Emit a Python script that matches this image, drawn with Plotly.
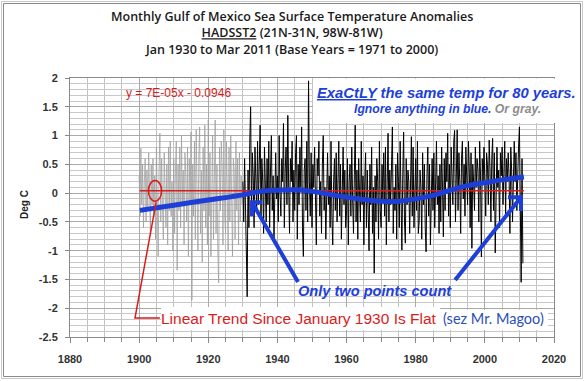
import numpy as np
import plotly.graph_objects as go

# ---------------- data ----------------
gray_start = 1900.0          # quarterly values
gray_values = [
    0.3, -0.4, 0.78, -0.2,   0.5, -0.6, 0.2, 0.6,   -0.5, 0.4, -0.3, 0.7,
    0.1, -0.7, 0.5, -0.2,    0.6, -0.4, 0.3, -0.8,  0.8, -0.3, -1.1, 0.4,
    1.04, -0.5, 0.6, -0.2,   -0.8, 0.7, 0.1, -0.6,  0.5, -0.9, 0.8, -0.3,
    0.9, -0.4, 0.2, -1.0,    0.6, -0.7, 0.4, 0.9,   -1.34, 0.5, -0.3, 0.8,
    -0.6, 1.0, -0.2, 0.4,    -0.9, 0.7, 0.3, -0.5,  0.8, -1.1, 0.6, -0.2,
    1.06, -1.86, 0.5, -0.4,  0.9, -0.8, 1.1, -0.3,  -1.0, 0.6, 1.15, -0.7,
    0.4, -1.2, 0.8, -0.3,    1.18, -0.6, 0.5, -0.9, 1.27, -0.4, 0.7, -1.1,
    0.6, 1.0, -0.8, 0.3,     1.27, -0.7, 0.5, -1.0, -1.56, 0.8, -0.3, 0.9,
    0.5, -0.9, 1.1, -0.4,    -0.7, 0.9, 0.2, -1.0,  0.8, -0.5, 1.0, -0.6,
    -1.1, 0.6, 0.4, -0.8,    0.9, -0.3, 0.6, -0.9,  0.7, -0.5, 0.3, -0.2,
]

black_start = 1930.0         # quarterly values Jan 1930 - Mar 2011 (estimated)
black_values = [
    0.2, -0.5, 0.6, -0.3,   -0.9, -1.8, 0.4, -0.6,  0.9, 1.5, -0.4, 0.7,
    0.3, -0.6, 0.8, 0.1,    -0.3, 0.9, -0.2, 0.5,   1.18, -0.4, 0.6, 0.2,
    -0.7, 0.8, 0.1, -0.5,   0.6, -0.2, 0.9, -0.6,   0.4, 1.0, -0.3, 0.3,
    -0.8, 0.5, 0.7, -0.1,   0.3, -0.5, 1.0, 0.0,    -0.4, 0.6, 0.2, 1.21,
    -0.6, 0.4, 0.8, -0.2,   1.35, 0.1, -0.7, 0.6,   0.2, 0.9, -0.5, 0.4,
    -0.3, 0.7, 1.0, -0.8,   0.5, -0.2, 0.8, 0.1,    1.15, -0.6, -1.1, 0.4,
    0.6, -0.3, 0.9, -0.5,   1.95, 0.2, -0.4, 0.7,   -0.6, 0.5, 0.1, 0.8,
    -0.2, -0.9, 0.6, 0.3,   0.9, -0.4, 0.2, -0.7,   0.5, 1.0, -0.3, 0.1,
    -0.8, 0.4, 0.7, -0.2,   0.3, -0.6, 0.9, -0.4,   -0.9, 0.2, 0.6, -0.3,
    0.7, -0.5, 0.1, 0.9,    -0.4, 0.5, -0.8, 0.3,   0.8, -0.2, 0.4, -0.6,
    -0.3, 0.6, -0.9, 0.2,   0.5, -0.4, 0.8, -0.1,   -0.7, 0.3, 1.18, -0.5,
    0.4, -0.8, 0.6, 0.0,    -0.5, 0.9, -0.2, 0.3,   -0.9, 0.2, 0.7, -0.6,
    0.4, -0.3, -1.0, 0.5,   -0.2, 0.8, -0.7, 0.1,   -1.39, 0.3, -0.5, 0.6,
    0.2, -0.8, 0.9, -0.3,   -0.6, 0.5, -0.1, 0.7,   -0.4, 0.8, -0.9, 0.2,
    1.04, -0.5, 0.4, -0.2,  0.6, 1.15, -0.7, 0.1,   -0.3, 0.5, -0.8, 0.7,
    0.2, -0.6, 0.9, -0.4,   -0.99, 0.3, 1.06, -0.5, -0.87, 0.6, -0.2, 0.4,
    0.2, -0.7, 0.5, 0.98,   -0.4, 0.8, -0.6, 0.3,   0.6, -0.3, 0.9, -0.7,
    -0.5, 0.4, 0.1, -0.8,   0.7, -0.2, 0.5, -0.6,   -1.02, 0.3, 0.8, -0.4,
    0.5, -0.9, 0.2, 0.6,    -0.3, 0.7, -0.6, 0.4,   0.9, -0.2, 0.3, -0.7,
    0.5, -0.5, 0.8, 0.1,    -0.76, 0.6, -0.3, 0.7,  0.2, 1.04, -0.4, 0.5,
    -0.6, 0.8, 0.3, -0.2,   0.9, 1.09, -0.5, 0.4,   1.1, -0.3, 0.7, 0.2,
    -0.7, 0.6, 0.9, -0.1,   0.5, -0.4, 0.8, 0.3,    -0.2, 0.9, 0.4, -0.6,
    0.7, -0.96, 0.5, 0.2,   -0.3, 0.8, 0.1, 0.6,    0.4, -0.5, 0.9, 0.3,
    -1.11, 0.6, 0.2, 0.8,   0.3, -0.4, 0.7, 0.5,    -0.2, 0.92, 0.4, -0.5,
    0.6, 0.95, -0.3, 0.7,   -1.04, 0.5, 0.8, 0.1,   0.4, -0.6, 0.7, 0.3,
    0.8, -0.2, 0.5, 0.9,    -0.4, 0.6, 0.2, 0.7,    0.3, -0.7, 0.8, 0.4,
    -0.5, 0.6, 0.9, 0.2,    0.7, -0.3, 0.5, 0.8,    1.15, -0.4, -1.55, 0.6,
    -1.22,
]

trend_x = [1900.2, 2011.3]
trend_y = [0.04, 0.04]

blue_years = [1900.2, 1910, 1920, 1930, 1935, 1940, 1945, 1950, 1955, 1960,
              1965, 1970, 1975, 1980, 1985, 1990, 1995, 2000, 2005, 2011.3]
blue_vals = [-0.30, -0.21, -0.12, -0.03, 0.03, 0.05, 0.06, 0.03, -0.02, -0.07,
             -0.11, -0.14, -0.14, -0.10, -0.04, 0.05, 0.13, 0.18, 0.23, 0.28]

callout_x = [1904.9, 1898.8, 1906.0]
callout_y = [-0.16, -2.17, -2.17]

arrow1_x = [1945.95, 1932.65, None, 1935.6, 1932.65, 1932.65]
arrow1_y = [-1.545, -0.16, None, -0.16, -0.16, -0.40]
arrow2_x = [1991.4, 2010.46, None, 2006.7, 2010.46, 2010.46]
arrow2_y = [-1.51, -0.07, None, -0.07, -0.07, -0.31]

x_ticks = [1880, 1900, 1920, 1940, 1960, 1980, 2000, 2020]
y_ticks = [2, 1.5, 1, 0.5, 0, -0.5, -1, -1.5, -2, -2.5]

# ---------------- figure ----------------
gray_x = gray_start + np.arange(len(gray_values)) / 4.0
black_x = black_start + np.arange(len(black_values)) / 4.0

BLUE = "#1d3fd8"
RED = "#d81c1c"

fig = go.Figure()
fig.add_trace(go.Scatter(x=gray_x, y=gray_values, mode="lines",
                         line=dict(color="#a0a0a0", width=0.8), hoverinfo="skip"))
fig.add_trace(go.Scatter(x=black_x, y=black_values, mode="lines",
                         line=dict(color="#000000", width=1.0), hoverinfo="skip"))
fig.add_trace(go.Scatter(x=trend_x, y=trend_y, mode="lines",
                         line=dict(color=RED, width=1.6), hoverinfo="skip"))
fig.add_trace(go.Scatter(x=blue_years, y=blue_vals, mode="lines",
                         line=dict(color=BLUE, width=5, shape="spline", smoothing=0.8),
                         hoverinfo="skip"))
fig.add_trace(go.Scatter(x=callout_x, y=callout_y, mode="lines",
                         line=dict(color=RED, width=1.5), hoverinfo="skip"))
for ax_, ay_ in ((arrow1_x, arrow1_y), (arrow2_x, arrow2_y)):
    fig.add_trace(go.Scatter(x=ax_, y=ay_, mode="lines", connectgaps=False,
                             line=dict(color=BLUE, width=4), hoverinfo="skip"))


def PX(px):
    return (px - 70) / 484.0


def PY(py):
    return (337 - py) / 259.0


shapes = [
    # red ellipse
    dict(type="circle", xref="x", yref="y", x0=1902.7, x1=1906.5, y0=-0.14, y1=0.22,
         line=dict(color=RED, width=1.5)),
    # white boxes behind texts
    dict(type="rect", xref="paper", yref="paper", x0=PX(313), x1=PX(578), y0=PY(123), y1=PY(78.5),
         fillcolor="white", line=dict(width=0), layer="above"),
    dict(type="rect", xref="paper", yref="paper", x0=PX(161), x1=PX(440), y0=PY(330), y1=PY(307),
         fillcolor="white", line=dict(width=0), layer="above"),
    dict(type="rect", xref="paper", yref="paper", x0=PX(440), x1=PX(548), y0=PY(330), y1=PY(310),
         fillcolor="white", line=dict(width=0), layer="above"),
    # outer frame
    dict(type="rect", xref="paper", yref="paper", x0=PX(1.5), x1=PX(582.5), y0=PY(378.5), y1=PY(1.5),
         line=dict(color="#c8c8c8", width=1), layer="below"),
    dict(type="rect", xref="paper", yref="paper", x0=PX(3.5), x1=PX(580.5), y0=PY(376.5), y1=PY(3.5),
         line=dict(color="#8a8a8a", width=1), layer="below"),
]

TFONT = dict(family="Open Sans, Liberation Sans, Arial", size=12.5, color="#1a1a1a", weight=600)
annotations = [
    dict(text="Monthly Gulf of Mexico Sea Surface Temperature Anomalies<br>"
              "<u>HADSST2</u> (21N-31N, 98W-81W)<br>"
              "Jan 1930 to Mar 2011 (Base Years = 1971 to 2000)",
         x=PX(292), y=PY(32.5), xref="paper", yref="paper", showarrow=False,
         xanchor="center", yanchor="middle", align="center", font=TFONT),
]

annotations += [
    dict(text="Deg C", x=PX(24), y=PY(205), textangle=-90,
         font=dict(family="Liberation Sans, Arial", size=10, color="#222", weight="bold")),
    dict(text="y = 7E-05x - 0.0946", x=PX(178), y=PY(93),
         font=dict(family="Liberation Sans, Arial", size=12, color=RED)),
    dict(text="<b><i><u>ExaCtLY</u> the same temp for 80 years.</i></b>", x=PX(446), y=PY(93),
         font=dict(family="Liberation Sans, Arial", size=14.8, color=BLUE)),
    dict(text="<b><i>Ignore anything in blue.</i></b> <span style='color:#8c8c8c'><b><i>Or gray.</i></b></span>",
         x=PX(447), y=PY(109), font=dict(family="Liberation Sans, Arial", size=12.2, color=BLUE)),
    dict(text="<b><i>Only two points count</i></b>", x=PX(375), y=PY(291),
         font=dict(family="Liberation Sans, Arial", size=14.6, color=BLUE)),
    dict(text="Linear Trend Since January 1930 Is Flat", x=PX(299), y=PY(318.5),
         font=dict(family="Liberation Sans, Arial", size=15.5, color=RED)),
    dict(text="(sez Mr. Magoo)", x=PX(493), y=PY(318.5),
         font=dict(family="Lato, Liberation Sans, Arial", size=14.5, color="#2b4fb8")),
]
for a in annotations[1:]:
    a.update(xref="paper", yref="paper", showarrow=False, xanchor="center", yanchor="middle")

fig.update_layout(
    width=584, height=381,
    margin=dict(l=70, r=30, t=78, b=44),
    paper_bgcolor="white", plot_bgcolor="white",
    showlegend=False,
    shapes=shapes, annotations=annotations,
    xaxis=dict(range=[1880, 2020], tickvals=x_ticks, ticktext=[str(v) for v in x_ticks],
               showgrid=True, gridcolor="#a9a9a9", gridwidth=1,
               minor=dict(dtick=5, tick0=1880, showgrid=True, gridcolor="#c2c2c2",
                          ticks="outside", ticklen=4, tickcolor="#888"),
               ticks="outside", ticklen=5, tickcolor="#888",
               showline=True, linecolor="#8a8a8a", linewidth=1, mirror=True,
               zeroline=False, ticklabelstandoff=7,
               tickfont=dict(family="Liberation Sans, Arial", size=11, color="#333", weight="bold")),
    yaxis=dict(range=[-2.5, 2], tickvals=y_ticks, ticktext=[str(v) for v in y_ticks],
               showgrid=True, gridcolor="#a9a9a9", gridwidth=1,
               minor=dict(dtick=0.1, tick0=0, showgrid=True, gridcolor="#c8c8c8"),
               ticks="outside", ticklen=4, tickcolor="#888",
               showline=True, linecolor="#8a8a8a", linewidth=1, mirror=True,
               zeroline=False, ticklabelstandoff=5,
               tickfont=dict(family="Liberation Sans, Arial", size=11, color="#333", weight="bold")),
)

fig.write_html("out.html", config={"displayModeBar": False},
               post_script="document.body.style.margin='0';document.body.style.overflow='hidden';")
